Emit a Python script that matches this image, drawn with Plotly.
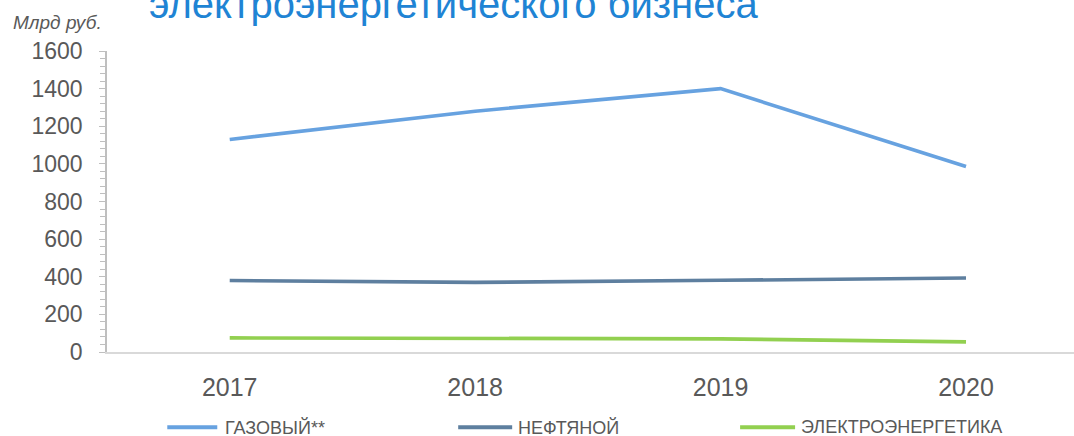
import plotly.graph_objects as go

years = ["2017", "2018", "2019", "2020"]
gas = [1130, 1280, 1400, 986]
oil = [380, 370, 381, 393]
power = [75, 72, 70, 54]
series_names = ["ГАЗОВЫЙ**", "НЕФТЯНОЙ", "ЭЛЕКТРОЭНЕРГЕТИКА"]
series_colors = ["#67A2E0", "#5E7F9F", "#92D050"]
y_ticks = [0, 200, 400, 600, 800, 1000, 1200, 1400, 1600]

W, H = 1074, 436
L, R, T, B = 106.7, 0, 50.5, 84.3
pw, ph = W - L - R, H - T - B


def px_to_paper_x(px):
    return (px - L) / pw


def px_to_paper_y(py):
    return (H - B - py) / ph


fig = go.Figure()
for name, vals, col in zip(series_names, [gas, oil, power], series_colors):
    fig.add_trace(go.Scatter(x=years, y=vals, mode="lines", name=name,
                             line=dict(color=col, width=3.6), showlegend=False))

# manual legend
leg_items = [(167, 217, 223), (458, 512, 516), (740, 795, 799)]
for (x0, x1, xt), name, col in zip(leg_items, series_names, series_colors):
    yy = px_to_paper_y(427)
    fig.add_shape(type="line", xref="paper", yref="paper",
                  x0=px_to_paper_x(x0), x1=px_to_paper_x(x1), y0=yy, y1=yy,
                  line=dict(color=col, width=4))
    fig.add_annotation(xref="paper", yref="paper", x=px_to_paper_x(xt), y=yy,
                       xanchor="left", yanchor="middle", showarrow=False,
                       text=name, font=dict(size=18, color="#595959",
                                            family="Liberation Sans Narrow, Liberation Sans, Arial"))

fig.add_annotation(xref="paper", yref="paper", x=px_to_paper_x(147), y=px_to_paper_y(3.6),
                   xanchor="left", yanchor="middle", showarrow=False,
                   text="электроэнергетического бизнеса",
                   font=dict(size=40, color="#1F84D4", family="Liberation Sans, Arial"))
fig.add_annotation(xref="paper", yref="paper", x=px_to_paper_x(57), y=px_to_paper_y(22),
                   xanchor="center", yanchor="middle", showarrow=False,
                   text="<i>Млрд руб.</i>",
                   font=dict(size=19, color="#595959", family="Liberation Sans, Arial"))

fig.update_layout(
    width=W, height=H,
    margin=dict(l=L, r=R, t=T, b=B, pad=0),
    plot_bgcolor="white", paper_bgcolor="white",
    font=dict(family="Liberation Sans, Arial", color="#595959"),
)
fig.update_xaxes(type="category", range=[-0.5, 3.44], showgrid=False,
                 showline=True, linecolor="#D9D9D9", linewidth=1.5,
                 ticks="", ticklabelstandoff=12,
                 tickfont=dict(size=25, color="#595959"))
fig.update_yaxes(range=[0, 1600], tickvals=y_ticks, showgrid=False, zeroline=False,
                 showline=True, linecolor="#BFBFBF", linewidth=1.5,
                 ticks="outside", ticklen=6, tickcolor="#BFBFBF", tickwidth=1,
                 minor=dict(dtick=40, ticks="outside", ticklen=5, tickcolor="#BFBFBF", tickwidth=1),
                 ticklabelstandoff=12,
                 tickfont=dict(size=23, color="#595959"))

fig.write_html("out.html", config={"displayModeBar": False},
               post_script="document.body.style.margin='0';document.body.style.overflow='hidden';")
